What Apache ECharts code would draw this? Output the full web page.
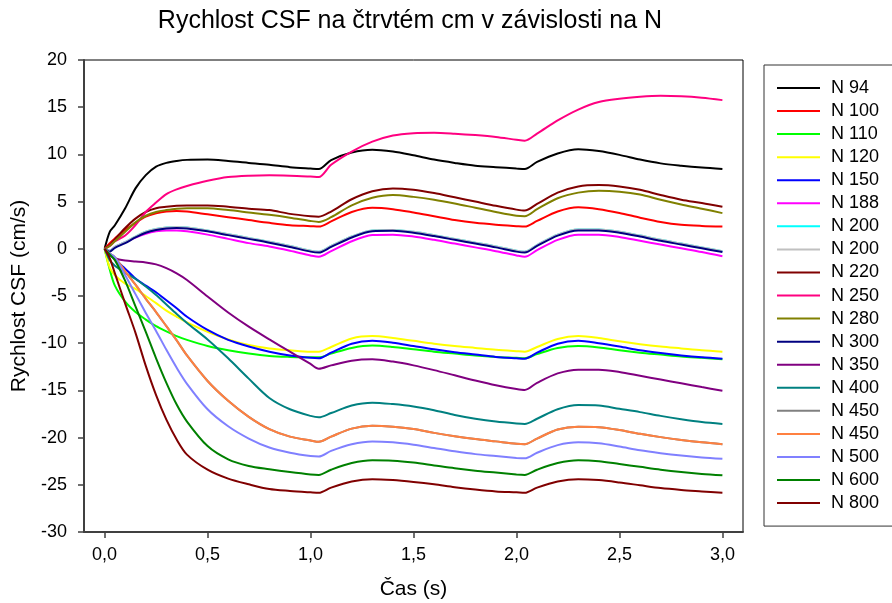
<!DOCTYPE html>
<html>
<head>
<meta charset="utf-8">
<script src="https://cdn.jsdelivr.net/npm/echarts@6/dist/echarts.min.js"></script>
<style>
  html, body { margin: 0; padding: 0; background: #fff; }
  #chart { width: 892px; height: 603px; }
</style>
</head>
<body>
<div id="chart"></div>
<script>
// Time samples (s)
const times = [0, 0.025, 0.05, 0.1, 0.15, 0.2, 0.25, 0.3, 0.35, 0.4,
  0.5, 0.6, 0.7, 0.8, 0.9, 1.0, 1.04,
  1.1, 1.2, 1.3, 1.4, 1.5, 1.6, 1.7, 1.8, 1.9, 2.0, 2.04,
  2.1, 2.2, 2.3, 2.4, 2.5, 2.6, 2.7, 2.8, 2.9, 3.0];

// CSF velocity (cm/s) for each N
const n94 = [0, 1.8, 2.5, 4.3, 6.4, 7.8, 8.7, 9.1, 9.3, 9.42,
  9.45, 9.3, 9.1, 8.9, 8.65, 8.5, 8.45,
  9.4, 10.2, 10.5, 10.3, 9.9, 9.45, 9.1, 8.8, 8.65, 8.5, 8.45,
  9.2, 10.1, 10.55, 10.35, 9.95, 9.45, 9.05, 8.8, 8.6, 8.45];
const n100 = [0, 0.6, 1.1, 2.0, 2.75, 3.4, 3.75, 3.95, 4.0, 3.95,
  3.65, 3.35, 3.05, 2.75, 2.5, 2.4, 2.35,
  2.9, 3.9, 4.35, 4.2, 3.85, 3.45, 3.05, 2.75, 2.55, 2.4, 2.35,
  2.95, 3.95, 4.4, 4.2, 3.8, 3.3, 2.85, 2.55, 2.42, 2.35];
const n110 = [0, -2.2, -3.9, -5.6, -6.7, -7.5, -8.2, -8.75, -9.25, -9.65,
  -10.3, -10.75, -11.1, -11.35, -11.45, -11.5, -11.5,
  -11.1, -10.5, -10.25, -10.4, -10.65, -10.9, -11.1, -11.3, -11.45, -11.55, -11.6,
  -11.15, -10.5, -10.3, -10.45, -10.75, -11.0, -11.2, -11.4, -11.55, -11.7];
const n120 = [0, -2.0, -2.8, -3.7, -4.25, -5.0, -5.75, -6.55, -7.2, -7.8,
  -8.8, -9.6, -10.2, -10.55, -10.75, -10.9, -10.9,
  -10.4, -9.5, -9.25, -9.45, -9.75, -10.05, -10.3, -10.5, -10.7, -10.85, -10.9,
  -10.4, -9.55, -9.25, -9.45, -9.8, -10.1, -10.35, -10.55, -10.75, -10.9];
const n150 = [0, -0.6, -1.1, -2.1, -3.15, -3.9, -4.6, -5.45, -6.3, -7.2,
  -8.6, -9.65, -10.35, -10.9, -11.3, -11.55, -11.6,
  -11.0, -10.05, -9.75, -9.95, -10.3, -10.65, -10.95, -11.2, -11.45, -11.6, -11.65,
  -11.0, -10.05, -9.75, -10.0, -10.35, -10.75, -11.05, -11.3, -11.5, -11.65];
const n188 = [0, -0.2, 0.2, 0.7, 1.2, 1.6, 1.85, 1.95, 1.95, 1.85,
  1.5, 1.05, 0.6, 0.25, -0.2, -0.7, -0.85,
  -0.25, 0.8, 1.45, 1.5, 1.3, 0.95, 0.55, 0.15, -0.25, -0.7, -0.85,
  -0.15, 0.95, 1.5, 1.5, 1.25, 0.85, 0.45, 0.05, -0.35, -0.8];
const n200 = [0, -0.2, 0.2, 0.7, 1.3, 1.8, 2.1, 2.25, 2.3, 2.25,
  1.95, 1.55, 1.15, 0.75, 0.3, -0.2, -0.3,
  0.3, 1.3, 1.95, 2.0, 1.8, 1.45, 1.05, 0.65, 0.25, -0.2, -0.3,
  0.4, 1.5, 2.05, 2.05, 1.8, 1.4, 0.95, 0.55, 0.15, -0.25];
const n220 = [0, 0.4, 1.0, 2.2, 3.2, 3.9, 4.3, 4.45, 4.55, 4.6,
  4.6, 4.45, 4.25, 4.1, 3.7, 3.45, 3.4,
  3.95, 5.25, 6.1, 6.4, 6.25, 5.9, 5.45, 5.0, 4.55, 4.15, 4.05,
  4.75, 5.95, 6.6, 6.75, 6.6, 6.25, 5.7, 5.2, 4.85, 4.45];
const n250 = [0, 0.3, 0.8, 1.4, 2.5, 3.9, 4.9, 5.8, 6.3, 6.65,
  7.2, 7.6, 7.75, 7.8, 7.75, 7.65, 7.6,
  8.9, 10.3, 11.35, 12.0, 12.25, 12.3, 12.2, 12.05, 11.85, 11.55, 11.45,
  12.2, 13.6, 14.75, 15.55, 15.9, 16.1, 16.2, 16.15, 16.0, 15.75];
const n280 = [0, 0.3, 0.8, 1.8, 2.8, 3.5, 3.9, 4.1, 4.25, 4.3,
  4.3, 4.1, 3.85, 3.6, 3.3, 2.95, 2.85,
  3.35, 4.6, 5.4, 5.7, 5.5, 5.2, 4.8, 4.35, 3.9, 3.5, 3.45,
  4.2, 5.35, 5.95, 6.15, 6.05, 5.75, 5.2, 4.7, 4.25, 3.78];
const n300 = [0, -0.3, 0.1, 0.6, 1.2, 1.7, 2.0, 2.15, 2.2, 2.15,
  1.85, 1.45, 1.05, 0.65, 0.2, -0.3, -0.4,
  0.2, 1.2, 1.85, 1.9, 1.7, 1.35, 0.95, 0.55, 0.15, -0.3, -0.4,
  0.3, 1.4, 1.95, 1.95, 1.7, 1.3, 0.85, 0.45, 0.05, -0.35];
const n350 = [0, -0.6, -1.0, -1.25, -1.35, -1.45, -1.65, -2.05, -2.6, -3.3,
  -5.05, -6.75, -8.25, -9.6, -10.9, -12.2, -12.7,
  -12.35, -11.85, -11.7, -11.95, -12.35, -12.85, -13.4, -13.95, -14.45, -14.85, -14.95,
  -14.2, -13.2, -12.8, -12.8, -13.05, -13.45, -13.85, -14.25, -14.65, -15.03];
const n400 = [0, -1.2, -1.8, -2.55, -3.2, -4.0, -4.9, -5.9, -6.9, -7.85,
  -9.6, -11.6, -13.75, -15.8, -17.0, -17.7, -17.85,
  -17.4, -16.6, -16.3, -16.45, -16.7, -17.1, -17.6, -18.0, -18.3, -18.5, -18.55,
  -18.0, -17.0, -16.55, -16.6, -16.95, -17.3, -17.7, -18.05, -18.35, -18.55];
const n450 = [0, -0.5, -0.9, -2.4, -3.8, -5.3, -6.7, -8.2, -9.7, -11.3,
  -14.0, -16.1, -17.8, -19.1, -19.9, -20.3, -20.45,
  -19.9, -19.05, -18.75, -18.85, -19.1, -19.5, -19.85, -20.15, -20.4, -20.65, -20.7,
  -20.1, -19.15, -18.85, -18.9, -19.2, -19.6, -19.95, -20.25, -20.5, -20.7];
const n500 = [0, -0.5, -0.9, -2.8, -4.8, -6.8, -8.7, -10.7, -12.6, -14.3,
  -17.0, -18.8, -20.1, -21.05, -21.6, -21.95, -22.0,
  -21.4, -20.7, -20.4, -20.5, -20.75, -21.1, -21.45, -21.75, -21.95, -22.15, -22.2,
  -21.6, -20.8, -20.5, -20.6, -20.95, -21.35, -21.65, -21.9, -22.1, -22.25];
const n600 = [0, -0.6, -1.2, -3.4, -6.1, -8.8, -11.6, -14.2, -16.5, -18.3,
  -20.9, -22.3, -23.0, -23.35, -23.65, -23.9, -23.95,
  -23.4, -22.7, -22.4, -22.45, -22.65, -22.95, -23.25, -23.5, -23.7, -23.9, -23.95,
  -23.4, -22.7, -22.4, -22.5, -22.8, -23.1, -23.4, -23.65, -23.85, -24.0];
const n800 = [0, -1.0, -2.6, -5.8, -8.9, -12.4, -15.5, -18.1, -20.2, -21.8,
  -23.4, -24.35, -24.95, -25.45, -25.65, -25.8, -25.85,
  -25.3, -24.65, -24.4, -24.5, -24.7, -24.95, -25.25, -25.5, -25.7, -25.8, -25.85,
  -25.3, -24.65, -24.4, -24.5, -24.75, -25.05, -25.35, -25.55, -25.7, -25.85];

// Legend entries, in drawing order (later entries are drawn on top)
const seriesNames = ['N 94', 'N 100', 'N 110', 'N 120', 'N 150', 'N 188', 'N 200', 'N 200 ',
  'N 220', 'N 250', 'N 280', 'N 300', 'N 350', 'N 400', 'N 450', 'N 450 ', 'N 500', 'N 600', 'N 800'];
const seriesValues = [n94, n100, n110, n120, n150, n188, n200, n200,
  n220, n250, n280, n300, n350, n400, n450, n450, n500, n600, n800];
const seriesColors = ['#000000', '#FF0000', '#00FF00', '#FFFF00', '#0000FF', '#FF00FF', '#00FFFF', '#C0C0C0',
  '#800000', '#FF0080', '#808000', '#000080', '#800080', '#008080', '#808080', '#FF8040', '#8080FF', '#008000', '#800000'];

// Axis tick positions
const xTicks = [0, 0.5, 1.0, 1.5, 2.0, 2.5, 3.0];

const FONT = '"Liberation Sans", Arial, Helvetica, sans-serif';

const chart = echarts.init(document.getElementById('chart'), null, { renderer: 'canvas' });

const series = seriesNames.map((name, i) => ({
  name: name,
  type: 'line',
  data: times.map((t, k) => [t, seriesValues[i][k]]),
  symbol: 'none',
  showSymbol: false,
  smooth: 0.3,
  lineStyle: { color: seriesColors[i], width: 2 },
  itemStyle: { color: seriesColors[i] },
  emphasis: { disabled: true },
  z: 2
}));

chart.setOption({
  animation: false,
  backgroundColor: '#ffffff',
  textStyle: { fontFamily: FONT },
  title: {
    text: 'Rychlost CSF na čtrvtém cm v závislosti na N',
    left: 410,
    textAlign: 'center',
    top: 9,
    padding: 0,
    textStyle: { fontFamily: FONT, fontSize: 25, fontWeight: 'normal', color: '#000' }
  },
  grid: {
    left: 84, top: 60, width: 659, height: 472,
    show: true, borderColor: '#000', borderWidth: 1,
    outerBoundsMode: 'none'
  },
  legend: {
    orient: 'vertical',
    left: 764,
    top: 65,
    padding: [14, 12, 14, 13],
    icon: 'rect',
    itemWidth: 43,
    itemHeight: 2,
    itemGap: 5.06,
    borderColor: '#333',
    borderWidth: 1,
    backgroundColor: '#fff',
    selectedMode: false,
    data: seriesNames,
    textStyle: { fontFamily: FONT, fontSize: 18, lineHeight: 18, color: '#000', padding: [0, 0, 0, 6] }
  },
  xAxis: {
    type: 'value',
    min: -0.1,
    max: 3.1,
    name: 'Čas (s)',
    nameLocation: 'middle',
    nameGap: 47,
    nameTextStyle: { fontFamily: FONT, fontSize: 21, color: '#000' },
    axisLine: { onZero: false, lineStyle: { color: '#404040', width: 2 } },
    axisTick: { show: true, length: 6, customValues: xTicks, lineStyle: { color: '#404040', width: 1.5 } },
    axisLabel: {
      customValues: xTicks,
      margin: 14,
      fontFamily: FONT, fontSize: 18, color: '#000',
      formatter: v => v.toFixed(1).replace('.', ',')
    },
    splitLine: { show: false }
  },
  yAxis: {
    type: 'value',
    min: -30,
    max: 20,
    interval: 5,
    name: 'Rychlost CSF (cm/s)',
    nameLocation: 'middle',
    nameGap: 50,
    nameTextStyle: { fontFamily: FONT, fontSize: 21, color: '#000' },
    axisLine: { onZero: false, lineStyle: { color: '#404040', width: 2 } },
    axisTick: { show: true, length: 6, lineStyle: { color: '#404040', width: 1.5 } },
    axisLabel: { margin: 17, fontFamily: FONT, fontSize: 18, color: '#000' },
    splitLine: { show: false }
  },
  series: series
});
</script>
</body>
</html>
